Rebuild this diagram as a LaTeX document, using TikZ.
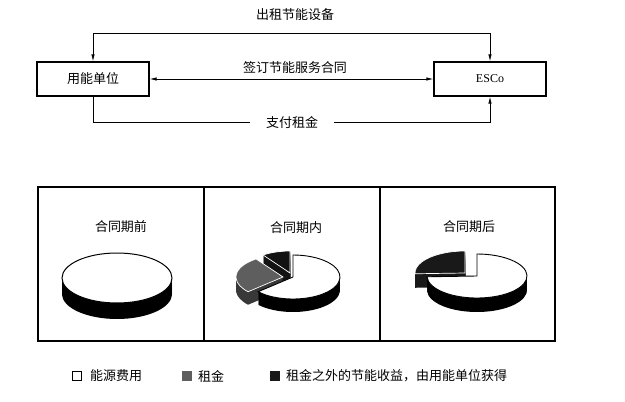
\documentclass[tikz,border=0pt]{standalone}
\usepackage{fontspec}
\setmainfont{Liberation Serif}
\newfontfamily\cjk{Noto Sans CJK SC}
\usetikzlibrary{arrows.meta}
\newcommand\myslice[9]{%
  \foreach \k in {#7,...,1}{%
    \fill[#9] (#1,#2-\k) -- ++(#5:#3pt and #4pt) arc[start angle=#5,end angle=#6,x radius=#3pt,y radius=#4pt] -- cycle;
  }%
  \filldraw[#8] (#1,#2) -- ++(#5:#3pt and #4pt) arc[start angle=#5,end angle=#6,x radius=#3pt,y radius=#4pt] -- cycle;
}
\begin{document}
\begin{tikzpicture}[x=1pt,y=1pt,
  box/.style={draw, line width=1.1pt, minimum width=112pt, minimum height=34pt, inner sep=0pt},
  lbl/.style={font=\cjk\fontsize{13}{13}\selectfont, inner sep=1pt},
  conn/.style={line width=0.8pt},
  tipp/.style={-{Latex[length=7pt,width=3.4pt]}},
  tipb/.style={{Latex[length=7pt,width=3.4pt]}-{Latex[length=7pt,width=3.4pt]}},
  sq/.style={draw, line width=0.9pt, minimum size=9pt, inner sep=0pt}]
\useasboundingbox (0,0) rectangle (625,-402);

% top diagram
\node[box, font=\cjk\fontsize{13}{13}\selectfont] (A) at (93,-79) {用能单位};
\node[box, font=\fontsize{12}{12}\selectfont] (B) at (490,-79) {ESCo};
\coordinate (tl) at (93,-33);
\coordinate (bl) at (93,-122);
\draw[conn, tipb] (A.north) -- (tl) -| (B.north);
\node[lbl] (t1) at (295,-15) {出租节能设备};
\draw[conn, tipb] (A.east) -- (B.west);
\node[lbl] (t2) at (295,-68) {签订节能服务合同};
\draw[conn, tipp] (A.south) -- (bl) -| (B.south);
\node[lbl, fill=white, inner xsep=16pt] (t3) at (292,-123) {支付租金};

% panels
\draw[line width=1.3pt] (38,-187) rectangle (555,-341);
\draw[line width=1.3pt] (204,-187) -- (204,-341);
\draw[line width=1.3pt] (380,-187) -- (380,-341);
\node[lbl] (p1) at (121,-227) {合同期前};
\node[lbl] (p2) at (296,-228) {合同期内};
\node[lbl] (p3) at (469,-227) {合同期后};

% pie 1
\foreach \k in {16,...,1}{\fill[black] (117,-278-\k) ellipse[x radius=55pt,y radius=25pt];}
\filldraw[fill=white, draw=black, line width=1pt] (117,-278) ellipse[x radius=55pt,y radius=25pt];

% pie 2
\myslice{290}{-273}{47}{22}{90}{125}{13}{fill=black!93,draw=white,line width=0.7pt}{fill=black!93}
\myslice{283}{-277}{47}{22}{125}{222}{13}{fill=black!63,draw=white,line width=0.7pt}{fill=black!78}
\myslice{293}{-277}{47}{22}{-138}{90}{13}{fill=white,draw=black,line width=0.9pt}{fill=black}

% pie 3
\myslice{465}{-273}{50}{22}{90}{182}{14}{fill=black!90,draw=white,line width=0.7pt}{fill=black!90}
\myslice{477}{-276}{50}{22}{-178}{90}{14}{fill=white,draw=black,line width=0.9pt}{fill=black}

% legend
\node[sq, fill=white] (s1) at (77,-376) {};
\node[lbl, anchor=west] (l1) at (89,-376) {能源费用};
\node[sq, fill=black!63, draw=black!63] (s2) at (187,-376) {};
\node[lbl, anchor=west] (l2) at (197,-376) {租金};
\node[sq, fill=black!90, draw=black!90] (s3) at (275,-376) {};
\node[lbl, anchor=west] (l3) at (285,-376) {租金之外的节能收益，由用能单位获得};
\end{tikzpicture}
\end{document}
